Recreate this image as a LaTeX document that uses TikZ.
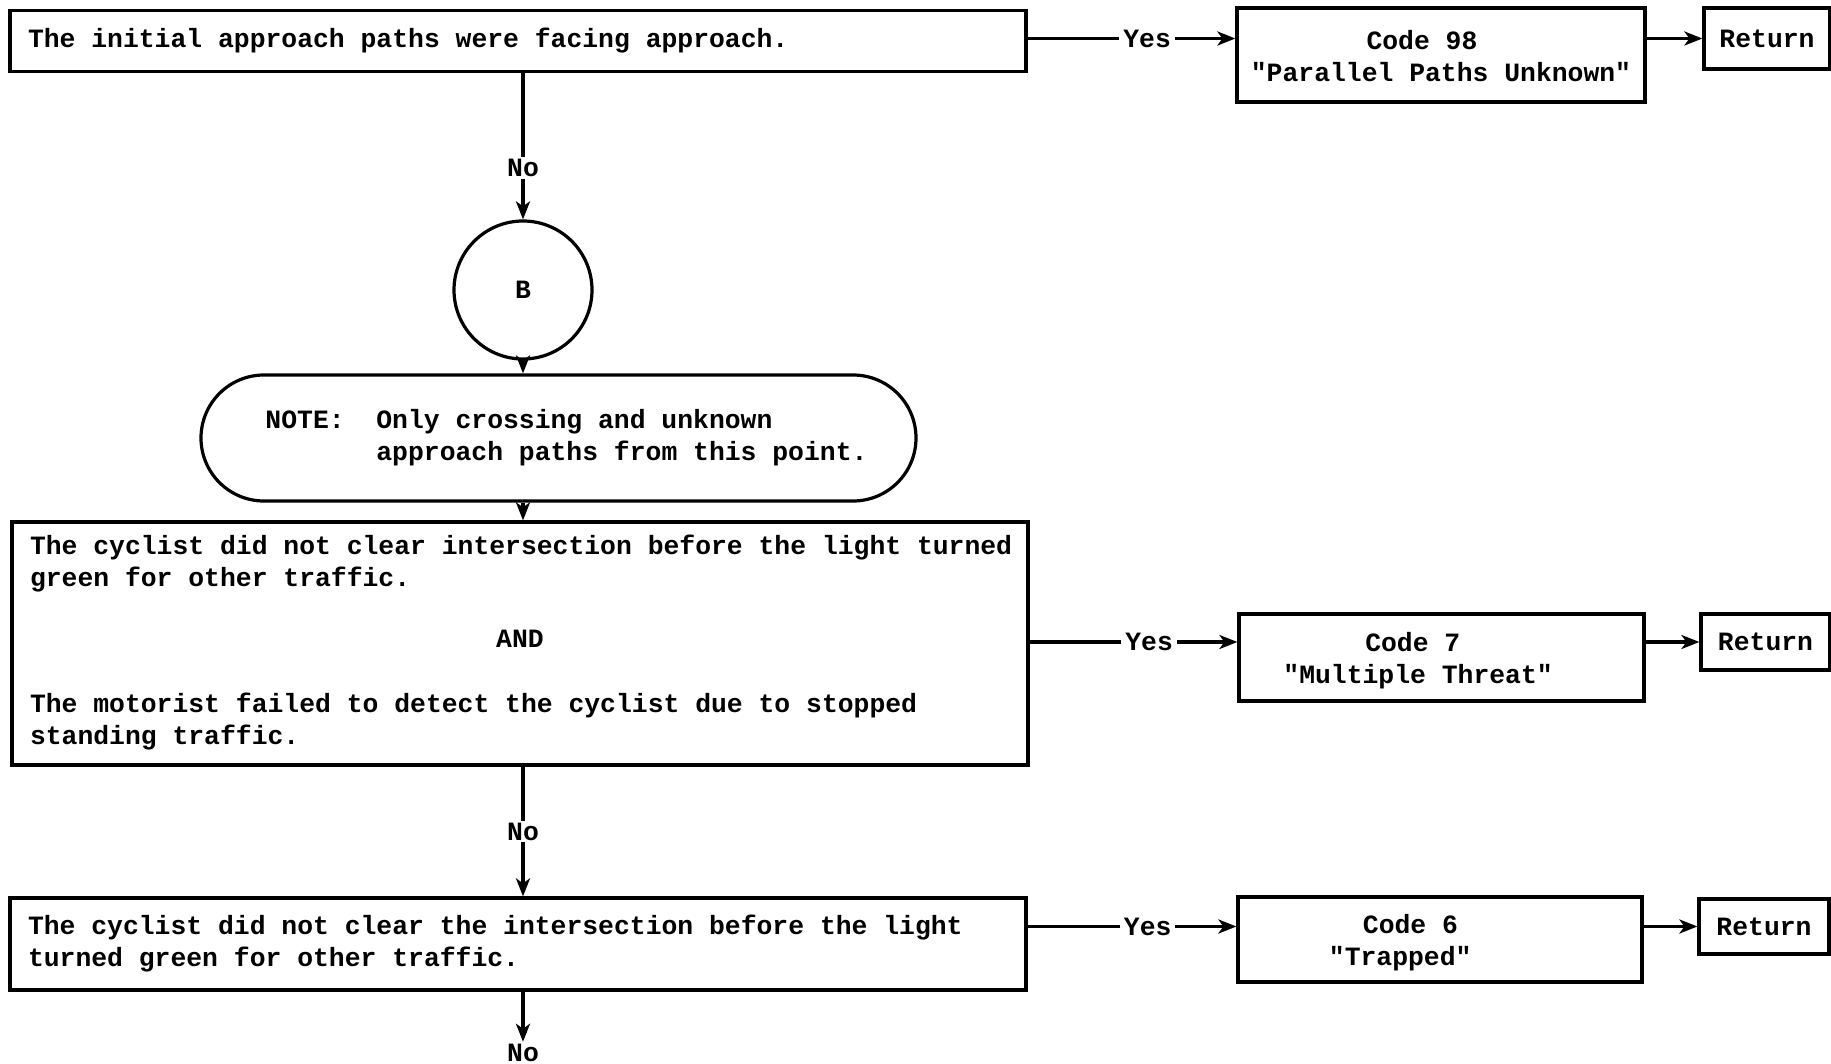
\documentclass[tikz,border=0pt]{standalone}
\usepackage{fontspec}
\setmonofont{Liberation Mono}
\usetikzlibrary{arrows.meta,shapes.misc}
\tikzset{
  txt/.style={font=\ttfamily\bfseries\fontsize{13.2}{16}\selectfont},
  qbox/.style={draw, line width=1.6pt, txt, inner xsep=6pt, inner ysep=0pt,
               minimum width=508pt},
  codebox/.style={draw, line width=1.6pt, txt, inner sep=0pt},
  retbox/.style={draw, line width=1.6pt, txt, inner sep=0pt},
  flow/.style={line width=1.6pt, -{Stealth[length=9pt,width=7pt,inset=2.5pt]}},
  lbl/.style={txt, fill=white, inner xsep=2pt, inner ysep=1pt},
}
\newcommand{\qtext}[1]{\makebox[496pt][l]{\begin{tabular}{@{\hspace{3pt}}l@{}}#1\end{tabular}}}
\newcommand{\lowstrut}{\rule{0pt}{15.2pt}}
\begin{document}
\begin{tikzpicture}[x=0.5pt,y=-0.5pt]
\useasboundingbox (0,0) rectangle (1831,1064);
\fill[white] (0,0) rectangle (1831,1064);

% decision boxes
\node[qbox, minimum height=30.5pt] (box1) at (518,41)
  {\qtext{The initial approach paths were facing approach.}};
\node[qbox, minimum height=121.5pt] (box2) at (520,643.5)
  {\qtext{The cyclist did not clear intersection before the light turned\\
   green for other traffic.\\[14.5pt]
   \makebox[490pt]{AND}\\[16.5pt]
   The motorist failed to detect the cyclist due to stopped\\
   standing traffic.}};
\node[qbox, minimum height=46pt] (box3) at (518,944)
  {\qtext{The cyclist did not clear the intersection before the light\\
   turned green for other traffic.}};

% connector B and note
\node[draw, circle, line width=1.6pt, txt, inner sep=0pt, minimum size=69pt] (B) at (523,290) {B};
\node[draw, rounded rectangle, line width=1.6pt, txt, inner sep=0pt,
      minimum width=357.5pt, minimum height=63pt] (note) at (558.5,438)
  {\begin{tabular}{@{\hspace{8pt}}l@{}}
   NOTE:\ \ Only crossing and unknown\\
   \hphantom{NOTE:\ \ }approach paths from this point.
   \end{tabular}};

% code boxes
\node[codebox, minimum width=204pt, minimum height=47pt] (code98) at (1441,55)
  {\begin{tabular}{@{}l@{}}\lowstrut\hspace*{57.8pt}Code 98\\"Parallel Paths Unknown"\end{tabular}};
\node[codebox, minimum width=202.5pt, minimum height=43.5pt] (code7) at (1441.5,657.5)
  {\begin{tabular}{@{}l@{\hspace{23.4pt}}}\lowstrut\hspace*{40.9pt}Code 7\\"Multiple Threat"\end{tabular}};
\node[codebox, minimum width=202pt, minimum height=42.5pt] (code6) at (1440,939.5)
  {\begin{tabular}{@{}l@{\hspace{39.8pt}}}\lowstrut\hspace*{17pt}Code 6\\"Trapped"\end{tabular}};

% return boxes
\node[retbox, minimum width=63pt, minimum height=30.5pt] (ret1) at (1767,38.5) {Return};
\node[retbox, minimum width=64.5pt, minimum height=28pt] (ret2) at (1765.5,642) {Return};
\node[retbox, minimum width=65pt, minimum height=27.5pt] (ret3) at (1764,926.5) {Return};

% final label
\node[txt, inner sep=1pt] (no3) at (523,1053) {No};

% Yes branches
\draw[flow] (box1.east |- ret1.west) -- node[lbl, pos=0.575]{Yes} (code98.west |- ret1.west);
\draw[flow] (box2.east |- ret2.west) -- node[lbl, pos=0.575]{Yes} (code7.west |- ret2.west);
\draw[flow] (box3.east |- ret3.west) -- node[lbl, pos=0.575]{Yes} (code6.west |- ret3.west);

% to Return
\draw[flow] (code98.east |- ret1.west) -- (ret1.west);
\draw[flow] (code7.east |- ret2.west) -- (ret2.west);
\draw[flow] (code6.east |- ret3.west) -- (ret3.west);

% main spine
\draw[flow] (box1.south -| B.center) -- node[lbl, pos=0.65]{No} (B.north);
\draw[flow] (B.south) -- (B.south |- note.north);
\draw[flow] (note.south -| B.center) -- (box2.north -| B.center);
\draw[flow] (box2.south -| B.center) -- node[lbl, pos=0.5]{No} (box3.north -| B.center);
\draw[flow] (box3.south -| B.center) -- (no3.north);
\end{tikzpicture}
\end{document}
